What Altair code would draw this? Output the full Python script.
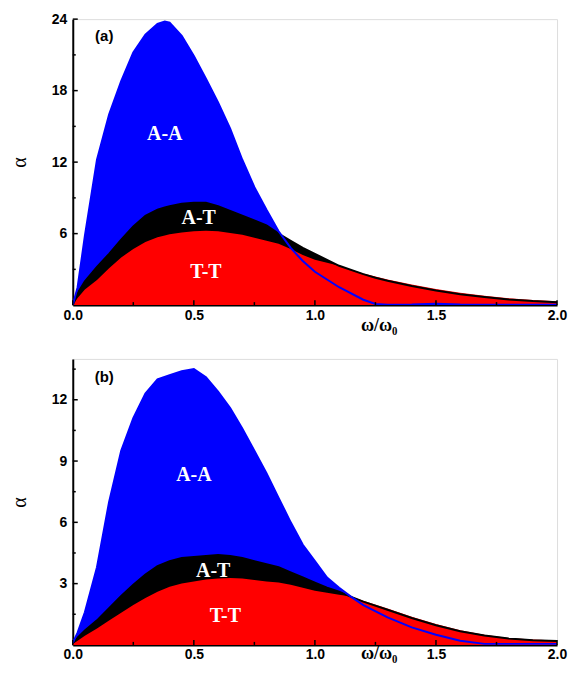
import altair as alt
import pandas as pd

# ---------------- Panel (a) data ----------------
xa = [0.0, 0.02, 0.05, 0.1, 0.15, 0.2, 0.25, 0.3, 0.35, 0.38, 0.4, 0.45, 0.5, 0.55, 0.6,
      0.65, 0.7, 0.75, 0.8, 0.85, 0.9, 0.95, 1.0, 1.1, 1.2, 1.25, 1.3, 1.4, 1.5, 1.6,
      1.7, 1.8, 1.9, 2.0]
a_AA = [0.0, 1.5, 5.8, 12.2, 16.0, 18.8, 21.2, 22.7, 23.6, 23.8, 23.7, 22.6, 20.9, 19.0, 17.0,
        14.8, 12.2, 9.9, 8.0, 6.2, 4.8, 3.7, 2.8, 1.5, 0.45, 0.1, 0.03, 0.05, 0.12, 0.05,
        0.03, 0.03, 0.03, 0.03]
a_AT = [0.0, 1.0, 2.0, 3.2, 4.3, 5.5, 6.6, 7.5, 8.0, 8.2, 8.3, 8.5, 8.6, 8.6, 8.3,
        7.9, 7.5, 7.1, 6.7, 6.0, 5.4, 4.8, 4.3, 3.3, 2.6, 2.3, 2.05, 1.6, 1.22, 0.92,
        0.68, 0.48, 0.34, 0.25]
a_TT = [0.0, 0.6, 1.3, 2.1, 3.1, 4.0, 4.7, 5.3, 5.7, 5.85, 5.95, 6.1, 6.2, 6.25, 6.2,
        6.05, 5.9, 5.65, 5.4, 5.15, 4.7, 4.2, 3.8, 3.3, 2.65, 2.4, 2.15, 1.72, 1.35, 1.03,
        0.78, 0.57, 0.42, 0.32]

# ---------------- Panel (b) data ----------------
xb = [0.0, 0.02, 0.05, 0.1, 0.15, 0.2, 0.25, 0.3, 0.35, 0.4, 0.45, 0.5, 0.55, 0.6, 0.65,
      0.7, 0.75, 0.8, 0.85, 0.9, 0.95, 1.0, 1.05, 1.1, 1.15, 1.2, 1.3, 1.4, 1.5, 1.6,
      1.7, 1.8, 1.9, 2.0]
b_AA = [0.1, 0.6, 1.6, 3.8, 7.0, 9.5, 11.1, 12.3, 13.0, 13.2, 13.4, 13.5, 13.1, 12.4, 11.6,
        10.6, 9.5, 8.4, 7.2, 6.0, 4.9, 4.1, 3.3, 2.8, 2.35, 1.95, 1.35, 0.86, 0.5, 0.2,
        0.05, 0.05, 0.05, 0.05]
b_AT = [0.1, 0.35, 0.7, 1.2, 1.8, 2.4, 2.95, 3.45, 3.85, 4.1, 4.25, 4.3, 4.35, 4.4, 4.35,
        4.25, 4.1, 3.95, 3.8, 3.55, 3.3, 3.05, 2.8, 2.6, 2.35, 2.12, 1.72, 1.32, 0.96, 0.67,
        0.46, 0.31, 0.23, 0.19]
b_TT = [0.05, 0.2, 0.45, 0.8, 1.2, 1.57, 1.95, 2.3, 2.6, 2.85, 3.0, 3.1, 3.2, 3.25, 3.27,
        3.25, 3.18, 3.1, 3.05, 2.95, 2.8, 2.65, 2.55, 2.45, 2.37, 2.16, 1.78, 1.38, 1.02, 0.72,
        0.5, 0.34, 0.26, 0.22]

# annotation labels (text, x, y)
a_labels = ["A-A", "A-T", "T-T"]
a_lab_x = [0.38, 0.52, 0.55]
a_lab_y = [14.4, 7.3, 2.8]
b_labels = ["A-A", "A-T", "T-T"]
b_lab_x = [0.5, 0.58, 0.63]
b_lab_y = [8.3, 3.6, 1.4]

x_major = [0.0, 0.5, 1.0, 1.5, 2.0]
x_minor = [0.25, 0.75, 1.25, 1.75]
a_y_major = [6, 12, 18, 24]
a_y_minor = [3, 9, 15, 21]
b_y_major = [3, 6, 9, 12]
b_y_minor = [1.5, 4.5, 7.5, 10.5, 13.5]

W, H = 486, 287
BLUE, RED, BLACK = "#0000ff", "#ff0000", "#000000"


def panel(xs, aa, at, tt, ymax, ymaj, ymin, labels, lx, ly, tag, tag_x, tag_y, title_y):
    df = pd.DataFrame({"x": xs, "AA": aa, "AT": at, "TT": tt})
    xsc = alt.Scale(domain=[0, 2], nice=False, zero=False)
    ysc = alt.Scale(domain=[0, ymax], nice=False)
    xax = alt.Axis(values=x_major, format=".1f", ticks=False, grid=False,
                   domainColor="black", domainWidth=2, labelFont="Liberation Sans",
                   labelFontWeight="bold", labelFontSize=14, labelColor="black",
                   labelPadding=3, title="ω/ω₀", titleFont="Liberation Serif",
                   titleFontWeight="bold", titleFontSize=18, titleColor="black",
                   titleX=307, titleY=title_y, titleAlign="center",
                   titleBaseline="alphabetic", labelFlush=False)
    yax = alt.Axis(values=ymaj, ticks=False, grid=False, domainColor="black",
                   domainWidth=2, labelFont="Liberation Sans", labelFontWeight="bold",
                   labelFontSize=14, labelColor="black", labelPadding=6, title="α",
                   titleFont="Liberation Serif", titleFontSize=20, titleFontWeight="normal",
                   titleColor="black", titlePadding=22, labelFlush=False)
    base = alt.Chart(df)
    x = alt.X("x:Q", scale=xsc, axis=xax)
    layers = [
        base.mark_area(color=BLUE, clip=True).encode(x=x, y=alt.Y("AA:Q", scale=ysc, axis=yax)),
        base.mark_area(color=BLACK, clip=True).encode(x="x:Q", y="AT:Q"),
        base.mark_area(color=RED, clip=True).encode(x="x:Q", y="TT:Q"),
        base.mark_line(color=BLACK, strokeWidth=2, clip=True).encode(x="x:Q", y="AT:Q"),
        base.mark_line(color=BLUE, strokeWidth=2, clip=True).encode(x="x:Q", y="AA:Q"),
    ]
    lab = pd.DataFrame({"t": labels, "x": lx, "y": ly})
    layers.append(alt.Chart(lab).mark_text(font="Liberation Serif", fontWeight="bold",
                                           fontSize=20, color="white").encode(
        x="x:Q", y="y:Q", text="t:N"))
    tagdf = pd.DataFrame({"t": [tag], "x": [tag_x], "y": [tag_y]})
    layers.append(alt.Chart(tagdf).mark_text(font="Liberation Sans", fontWeight="bold",
                                             fontSize=15, color="black").encode(
        x="x:Q", y="y:Q", text="t:N"))
    # inward ticks
    layers.append(alt.Chart(pd.DataFrame({"v": ymaj})).mark_rule(color="black", strokeWidth=1.5)
                  .encode(y="v:Q", x=alt.value(0), x2=alt.value(5)))
    layers.append(alt.Chart(pd.DataFrame({"v": ymin})).mark_rule(color="black", strokeWidth=1.5)
                  .encode(y="v:Q", x=alt.value(0), x2=alt.value(3)))
    layers.append(alt.Chart(pd.DataFrame({"v": x_major})).mark_rule(color="black", strokeWidth=1.5)
                  .encode(x="v:Q", y=alt.value(H), y2=alt.value(H - 5)))
    layers.append(alt.Chart(pd.DataFrame({"v": x_minor})).mark_rule(color="black", strokeWidth=1.5)
                  .encode(x="v:Q", y=alt.value(H), y2=alt.value(H - 3)))
    return alt.layer(*layers).properties(width=W, height=H)


pa = panel(xa, a_AA, a_AT, a_TT, 24, a_y_major, a_y_minor, a_labels, a_lab_x, a_lab_y,
           "(a)", 0.13, 22.6, 25)
pb = panel(xb, b_AA, b_AT, b_TT, 14, b_y_major, b_y_minor, b_labels, b_lab_x, b_lab_y,
           "(b)", 0.13, 13.1, 14)

chart = alt.vconcat(pa, pb, spacing=54, bounds="flush").properties(
    padding={"left": 0, "top": 2, "right": 0, "bottom": 0}
).configure_view(stroke="black", strokeWidth=2).configure(background="white")

chart.save("out.html", embed_options={"renderer": "svg", "actions": False})
